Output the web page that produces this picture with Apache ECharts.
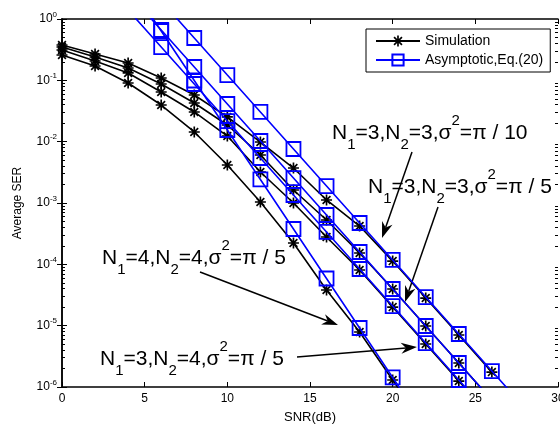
<!DOCTYPE html>
<html>
<head>
<meta charset="utf-8">
<title>Average SER vs SNR</title>
<script src="https://cdn.jsdelivr.net/npm/echarts@6/dist/echarts.min.js"></script>
<style>
  html, body { margin: 0; padding: 0; background: #fff; }
  #chart { width: 560px; height: 429px; }
</style>
</head>
<body>
<div id="chart"></div>
<script>
// simulation points, SNR in dB
var snrSim = [0, 2, 4, 6, 8, 10, 12, 14, 16, 18, 20, 22, 24, 26];
var simA = [0.377, 0.269, 0.192, 0.109, 0.0577, 0.0253, 0.00987, 0.00372, 0.00112, 4.21e-4, 1.13e-4, 2.82e-5, 7.04e-6, 1.75e-6]; // N1=3,N2=3,pi/10
var simB = [0.349, 0.240, 0.159, 0.0871, 0.0427, 0.0187, 0.00606, 0.00163, 5.28e-4, 1.53e-4, 3.96e-5, 9.86e-6, 2.46e-6, 6.1e-7]; // N1=3,N2=3,pi/5
var simC = [0.312, 0.207, 0.132, 0.0645, 0.0305, 0.01236, 0.0032, 0.001, 2.79e-4, 8.07e-5, 2.01e-5, 5.02e-6, 1.25e-6, 3.12e-7]; // N1=3,N2=4,pi/5
var simD = [0.259, 0.171, 0.0904, 0.0396, 0.0144, 0.00416, 0.00104, 2.23e-4, 3.81e-5, 7.87e-6, 1.30e-6, 2.14e-7]; // N1=4,N2=4,pi/5

// asymptotic curves, Eq.(20)
var snrAsy = [4, 6, 8, 10, 12, 14, 16, 18, 20, 22, 24, 26, 28];
var asyA = [7.9, 1.97, 0.490, 0.122, 0.0305, 0.00759, 0.00189, 4.72e-4, 1.18e-4, 2.93e-5, 7.31e-6, 1.82e-6, 4.54e-7];
var asyB = [2.65, 0.662, 0.165, 0.0411, 0.01025, 0.00255, 6.37e-4, 1.59e-4, 3.96e-5, 9.87e-6, 2.46e-6, 6.13e-7];
var asyC = [1.40, 0.349, 0.0871, 0.0217, 0.00542, 0.00135, 3.37e-4, 8.39e-5, 2.09e-5, 5.21e-6, 1.30e-6, 3.24e-7];
var asyD = [4.08, 0.637, 0.0994, 0.0155, 0.00242, 3.77e-4, 5.87e-5, 9.16e-6, 1.43e-6, 2.23e-7];

var xTicks = [0, 5, 10, 15, 20, 25, 30];

// text labels and arrows (pixel positions)
var notes = [
  { x: 332, y: 133, n1: '3', n2: '3', s: '10' },
  { x: 368, y: 187, n1: '3', n2: '3', s: '5' },
  { x: 102, y: 258, n1: '4', n2: '4', s: '5' },
  { x: 100, y: 359, n1: '3', n2: '4', s: '5' }
];
var arrows = [
  [412, 152, 382, 238],
  [438, 207, 405, 302],
  [200, 272, 338, 325],
  [297, 357, 417, 347]
];

var FONT = 'Liberation Sans, Arial, Helvetica, sans-serif';
var STAR = 'path://M-0.9,-6L0.9,-6L0.9,6L-0.9,6Z M-6,-0.9L6,-0.9L6,0.9L-6,0.9Z ' +
  'M-4.88,-3.61L-3.61,-4.88L4.88,3.61L3.61,4.88Z M4.88,-3.61L-3.61,4.88L-4.88,3.61L3.61,-4.88Z';

function pairs(xs, ys) {
  return ys.map(function (v, i) { return [xs[i], v]; });
}

// minor ticks of the log axis (2..9 of every decade)
var minorVals = [];
for (var k = -6; k < 0; k++) {
  for (var m = 2; m <= 9; m++) minorVals.push(m * Math.pow(10, k));
}

function simSeries(ys) {
  return {
    name: 'Simulation',
    type: 'line',
    data: pairs(snrSim, ys),
    symbol: STAR,
    symbolSize: 11,
    lineStyle: { color: '#000', width: 1.6 },
    itemStyle: { color: '#000', borderWidth: 0 },
    emphasis: { disabled: true },
    animation: false,
    z: 2
  };
}
function asySeries(ys) {
  return {
    name: 'Asymptotic,Eq.(20)',
    type: 'line',
    data: pairs(snrAsy, ys),
    symbol: 'rect',
    symbolSize: 14,
    lineStyle: { color: '#0000ff', width: 1.6 },
    itemStyle: { color: 'rgba(0,0,0,0)', borderColor: '#0000ff', borderWidth: 1.8 },
    emphasis: { disabled: true },
    animation: false,
    z: 3
  };
}

function arrow(a) {
  var x0 = a[0], y0 = a[1], x1 = a[2], y1 = a[3];
  var dx = x1 - x0, dy = y1 - y0;
  var len = Math.sqrt(dx * dx + dy * dy);
  var ux = dx / len, uy = dy / len, nx = -uy, ny = ux;
  var L = 16, W = 5.5, N = 11;
  return [
    { type: 'line', shape: { x1: x0, y1: y0, x2: x1 - ux * N, y2: y1 - uy * N }, style: { stroke: '#000', lineWidth: 1.5 } },
    { type: 'polygon', shape: { points: [[x1, y1], [x1 - ux * L + nx * W, y1 - uy * L + ny * W], [x1 - ux * N, y1 - uy * N], [x1 - ux * L - nx * W, y1 - uy * L - ny * W]] }, style: { fill: '#000' } }
  ];
}

var graphics = [];
notes.forEach(function (n) {
  graphics.push({
    type: 'text',
    x: n.x,
    y: n.y,
    z: 10,
    style: {
      text: '{m|N}{s|1}{m|=' + n.n1 + ',N}{s|2}{m|=' + n.n2 + ',σ}{p|2}{m|=π / ' + n.s + '}',
      fill: '#000',
      align: 'left',
      verticalAlign: 'middle',
      font: '21px ' + FONT,
      rich: {
        m: { fontSize: 21, fontFamily: FONT, lineHeight: 24 },
        s: { fontSize: 15, fontFamily: FONT, lineHeight: 18, padding: [24, 0, 0, 0] },
        p: { fontSize: 15, fontFamily: FONT, lineHeight: 18, padding: [0, 0, 24, 0] }
      }
    }
  });
});
arrows.forEach(function (a) { graphics = graphics.concat(arrow(a)); });

var axisLine = { show: true, lineStyle: { color: '#000', width: 1.5 } };

var chart = echarts.init(document.getElementById('chart'), null, { renderer: 'canvas' });
chart.setOption({
  animation: false,
  backgroundColor: '#fff',
  textStyle: { fontFamily: FONT },
  grid: { left: 62, right: 2, top: 19, bottom: 42, containLabel: false, outerBoundsMode: 'none' },
  legend: {
    data: ['Simulation', 'Asymptotic,Eq.(20)'],
    orient: 'vertical',
    left: 366,
    top: 29,
    padding: [5, 7, 5, 9],
    itemGap: 5,
    itemWidth: 44,
    itemHeight: 14,
    backgroundColor: '#fff',
    borderColor: '#000',
    borderWidth: 1,
    borderRadius: 0,
    selectedMode: false,
    textStyle: { color: '#000', fontSize: 14, fontFamily: FONT }
  },
  xAxis: [
    {
      type: 'value', position: 'bottom', min: 0, max: 30, interval: 5,
      name: 'SNR(dB)', nameLocation: 'middle', nameGap: 24,
      nameTextStyle: { color: '#000', fontSize: 13, fontFamily: FONT },
      axisLine: axisLine,
      axisTick: { inside: true, length: 5, lineStyle: { color: '#000' } },
      axisLabel: { color: '#000', fontSize: 12, margin: 6, customValues: xTicks },
      splitLine: { show: false }
    },
    {
      type: 'value', position: 'top', min: 0, max: 30, interval: 5,
      axisLine: axisLine,
      axisTick: { inside: true, length: 5, lineStyle: { color: '#000' } },
      axisLabel: { show: false },
      splitLine: { show: false }
    }
  ],
  yAxis: [
    {
      type: 'log', logBase: 10, position: 'left', min: 1e-6, max: 1,
      name: 'Average SER', nameLocation: 'middle', nameGap: 38,
      nameTextStyle: { color: '#000', fontSize: 12, fontFamily: FONT },
      axisLine: axisLine,
      axisTick: { inside: true, length: 5, lineStyle: { color: '#000' } },
      axisLabel: {
        color: '#000', margin: 5,
        formatter: function (v) {
          var e = Math.round(Math.log(v) / Math.LN10);
          return '{b|10}{s|' + e + '}';
        },
        rich: {
          b: { fontSize: 12, color: '#000', fontFamily: FONT },
          s: { fontSize: 8, color: '#000', fontFamily: FONT, padding: [0, 0, 9, 0] }
        }
      },
      splitLine: { show: false }
    },
    {
      type: 'log', logBase: 10, position: 'right', min: 1e-6, max: 1,
      axisLine: axisLine,
      axisTick: { inside: true, length: 5, lineStyle: { color: '#000' } },
      axisLabel: { show: false },
      splitLine: { show: false }
    },
    {
      type: 'log', logBase: 10, position: 'left', min: 1e-6, max: 1,
      axisLine: { show: false },
      axisTick: { inside: true, length: 3, customValues: minorVals, lineStyle: { color: '#000' } },
      axisLabel: { show: false },
      splitLine: { show: false }
    },
    {
      type: 'log', logBase: 10, position: 'right', min: 1e-6, max: 1,
      axisLine: { show: false },
      axisTick: { inside: true, length: 3, customValues: minorVals, lineStyle: { color: '#000' } },
      axisLabel: { show: false },
      splitLine: { show: false }
    }
  ],
  series: [
    simSeries(simA), simSeries(simB), simSeries(simC), simSeries(simD),
    asySeries(asyA), asySeries(asyB), asySeries(asyC), asySeries(asyD)
  ],
  graphic: graphics
});
</script>
</body>
</html>
